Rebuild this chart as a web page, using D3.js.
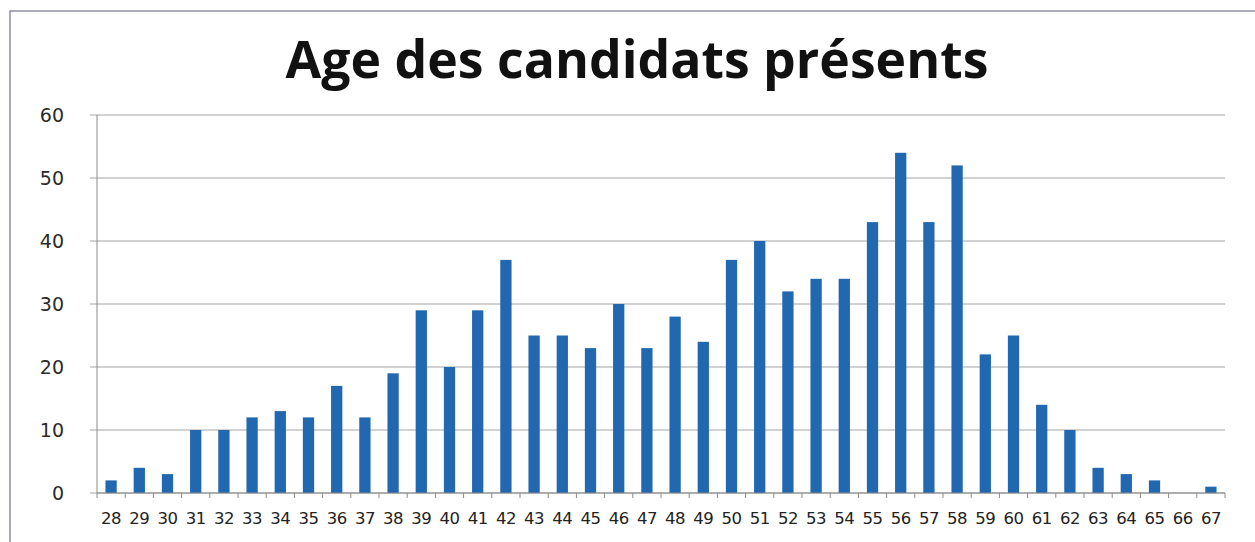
<!DOCTYPE html>
<html>
<head>
<meta charset="utf-8">
<script src="https://cdn.jsdelivr.net/npm/d3@7.9.0/dist/d3.min.js"></script>
<style>
  body { margin: 0; background: #fff; }
  svg { display: block; }
</style>
</head>
<body>
<svg id="chart" width="1255" height="542"></svg>
<script>
// ages on the x axis
const ages = [28, 29, 30, 31, 32, 33, 34, 35, 36, 37, 38, 39, 40, 41, 42, 43, 44, 45, 46, 47,
  48, 49, 50, 51, 52, 53, 54, 55, 56, 57, 58, 59, 60, 61, 62, 63, 64, 65, 66, 67];
// number of candidates per age
const counts = [2, 4, 3, 10, 10, 12, 13, 12, 17, 12, 19, 29, 20, 29, 37, 25, 25, 23, 30, 23,
  28, 24, 37, 40, 32, 34, 34, 43, 54, 43, 52, 22, 25, 14, 10, 4, 3, 2, 0, 1];
const yTicks = [0, 10, 20, 30, 40, 50, 60];
const title = 'Age des candidats présents';

const svg = d3.select('#chart');
const margin = { top: 115, right: 30, bottom: 49, left: 97 };
const width = 1255 - margin.left - margin.right;
const height = 542 - margin.top - margin.bottom;

// frame
svg.append('rect')
  .attr('x', 10).attr('y', 11)
  .attr('width', 1265).attr('height', 560)
  .attr('fill', 'none')
  .attr('stroke', '#8e8eab')
  .attr('stroke-width', 1.5);

// title, sized to span like the original
const t = svg.append('text')
  .attr('x', 637).attr('y', 78)
  .attr('text-anchor', 'middle')
  .attr('font-family', '"Open Sans", sans-serif')
  .attr('font-weight', 700)
  .attr('font-size', 40)
  .attr('fill', '#111')
  .text(title);
const len = t.node().getComputedTextLength();
t.attr('font-size', 40 * 703 / len);

const g = svg.append('g').attr('transform', `translate(${margin.left},${margin.top})`);

const x = d3.scaleBand().domain(ages).range([0, width]).paddingInner(0.6).paddingOuter(0.3);
const y = d3.scaleLinear().domain([0, 60]).range([height, 0]);

// gridlines
g.append('g')
  .selectAll('line')
  .data(yTicks)
  .join('line')
  .attr('x1', -7).attr('x2', width)
  .attr('y1', d => y(d)).attr('y2', d => y(d))
  .attr('stroke', '#a4a4a4')
  .attr('stroke-width', 1);

// y axis line + labels
g.append('line')
  .attr('x1', 0).attr('x2', 0)
  .attr('y1', 0).attr('y2', height)
  .attr('stroke', '#8a8a8a');

g.append('g')
  .selectAll('text')
  .data(yTicks)
  .join('text')
  .attr('x', -33)
  .attr('y', d => y(d))
  .attr('dy', '0.35em')
  .attr('text-anchor', 'end')
  .attr('font-family', '"DejaVu Sans", sans-serif')
  .attr('font-size', 19)
  .attr('fill', '#2a2a2a')
  .text(d => d);

// bars
g.append('g')
  .selectAll('rect')
  .data(ages)
  .join('rect')
  .attr('x', d => x(d))
  .attr('width', x.bandwidth())
  .attr('y', (d, i) => y(counts[i]))
  .attr('height', (d, i) => y(0) - y(counts[i]))
  .attr('fill', '#2168b0');

// x axis
const xAxis = g.append('g').attr('transform', `translate(0,${height})`);
xAxis.append('line')
  .attr('x1', 0).attr('x2', width)
  .attr('stroke', '#8a8a8a');
xAxis.selectAll('line.tick')
  .data(d3.range(ages.length + 1))
  .join('line')
  .attr('class', 'tick')
  .attr('x1', i => i * width / ages.length)
  .attr('x2', i => i * width / ages.length)
  .attr('y1', 0).attr('y2', 5)
  .attr('stroke', '#8a8a8a');
xAxis.selectAll('text')
  .data(ages)
  .join('text')
  .attr('x', d => x(d) + x.bandwidth() / 2)
  .attr('y', 31)
  .attr('text-anchor', 'middle')
  .attr('font-family', '"DejaVu Sans", sans-serif')
  .attr('font-size', 16.5)
  .attr('letter-spacing', -0.5)
  .attr('fill', '#222')
  .text(d => d);
</script>
</body>
</html>
